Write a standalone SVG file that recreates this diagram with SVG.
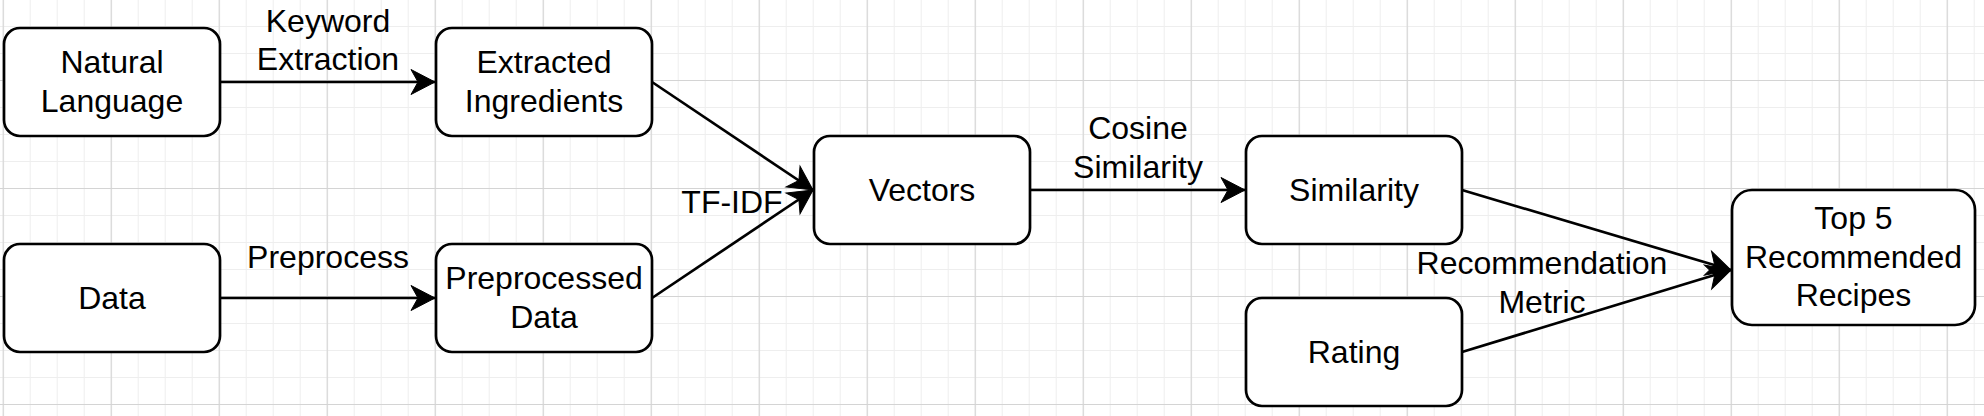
<svg xmlns="http://www.w3.org/2000/svg" width="1984" height="416" viewBox="0 0 1984 416">
  <defs>
    <pattern id="minor" patternUnits="userSpaceOnUse" x="2.7" y="-1" width="27" height="27">
      <path d="M0.5,0 V27 M0,0.5 H27" stroke="#eeeeee" stroke-width="1" fill="none"/>
    </pattern>
    <pattern id="major" patternUnits="userSpaceOnUse" x="2.7" y="-28" width="108" height="108">
      <path d="M0.5,0 V108 M0,0.5 H108" stroke="#d4d4d4" stroke-width="1.2" fill="none"/>
    </pattern>
    <marker id="arrow" markerUnits="userSpaceOnUse" markerWidth="30" markerHeight="30" viewBox="-26 -15 30 30" refX="0" refY="0" orient="auto">
      <path d="M0,0 L-24,-12.5 L-17,0 L-24,12.5 Z" fill="#000" stroke="#000" stroke-width="1" stroke-linejoin="miter"/>
    </marker>
    <style>
      .node rect { fill: #ffffff; stroke: #000000; stroke-width: 2.7; }
      .node text, .label { font-family: "Liberation Sans", Arial, Helvetica, sans-serif; font-size: 32px; fill: #000000; text-anchor: middle; }
      .edge { fill: none; stroke: #000000; stroke-width: 2.7; marker-end: url(#arrow); }
    </style>
  </defs>

  <rect x="0" y="0" width="1984" height="416" fill="#ffffff"/>
  <rect x="0" y="0" width="1984" height="416" fill="url(#minor)"/>
  <rect x="0" y="0" width="1984" height="416" fill="url(#major)"/>

  <g id="connectors">
    <path class="edge" d="M220,82 L435,82"/>
    <path class="edge" d="M220,298 L435,298"/>
    <path class="edge" d="M652,82 L813,190"/>
    <path class="edge" d="M652,298 L813,190"/>
    <path class="edge" d="M1030,190 L1245,190"/>
    <path class="edge" d="M1462,190 L1731,270"/>
    <path class="edge" d="M1462,352 L1731,270"/>
    <text class="label" x="328" y="31.5">Keyword</text>
    <text class="label" x="328" y="70">Extraction</text>
    <text class="label" x="328" y="268">Preprocess</text>
    <text class="label" x="732" y="213">TF-IDF</text>
    <text class="label" x="1138" y="139">Cosine</text>
    <text class="label" x="1138" y="177.5">Similarity</text>
    <text class="label" x="1542" y="274">Recommendation</text>
    <text class="label" x="1542" y="313">Metric</text>
  </g>

  <g id="node-natural-language" class="node">
    <rect x="4" y="28" width="216" height="108" rx="16" ry="16"/>
    <text x="112" y="73">Natural</text>
    <text x="112" y="111.5">Language</text>
  </g>
  <g id="node-extracted-ingredients" class="node">
    <rect x="436" y="28" width="216" height="108" rx="16" ry="16"/>
    <text x="544" y="73">Extracted</text>
    <text x="544" y="111.5">Ingredients</text>
  </g>
  <g id="node-data" class="node">
    <rect x="4" y="244" width="216" height="108" rx="16" ry="16"/>
    <text x="112" y="309">Data</text>
  </g>
  <g id="node-preprocessed-data" class="node">
    <rect x="436" y="244" width="216" height="108" rx="16" ry="16"/>
    <text x="544" y="289">Preprocessed</text>
    <text x="544" y="327.5">Data</text>
  </g>
  <g id="node-vectors" class="node">
    <rect x="814" y="136" width="216" height="108" rx="16" ry="16"/>
    <text x="922" y="201">Vectors</text>
  </g>
  <g id="node-similarity" class="node">
    <rect x="1246" y="136" width="216" height="108" rx="16" ry="16"/>
    <text x="1354" y="201">Similarity</text>
  </g>
  <g id="node-rating" class="node">
    <rect x="1246" y="298" width="216" height="108" rx="16" ry="16"/>
    <text x="1354" y="363">Rating</text>
  </g>
  <g id="node-top5" class="node">
    <rect x="1732" y="190" width="243" height="135" rx="20" ry="20"/>
    <text x="1853.5" y="229">Top 5</text>
    <text x="1853.5" y="268">Recommended</text>
    <text x="1853.5" y="306">Recipes</text>
  </g>
</svg>
